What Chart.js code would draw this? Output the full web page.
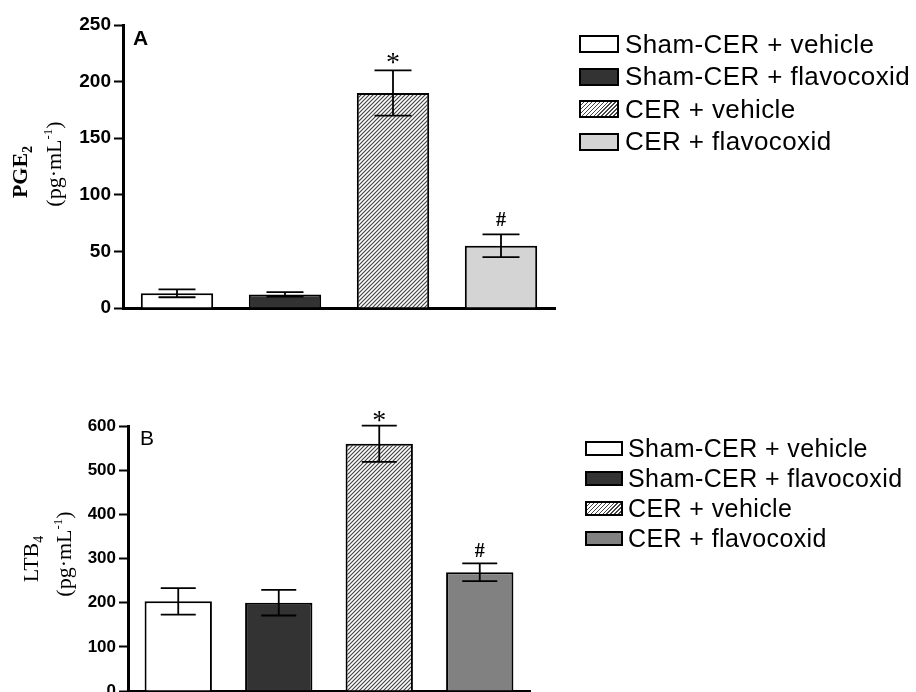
<!DOCTYPE html>
<html>
<head>
<meta charset="utf-8">
<script src="https://cdn.jsdelivr.net/npm/chart.js@4.4.0/dist/chart.umd.min.js"></script>
<style>
  html, body { margin: 0; padding: 0; background: #fff; }
  body { width: 916px; height: 692px; position: relative; overflow: hidden; }
  canvas { position: absolute; left: 0; }
  #cA { top: 0; }
  #cB { top: 346px; }
  .lbl { position: absolute; white-space: nowrap; color: #000; }
  .ytitle { font-family: 'Liberation Serif', 'Times New Roman', serif; transform: translate(-50%, -50%) rotate(-90deg); line-height: 1; }
  .panel { font-family: 'Liberation Sans', Arial, sans-serif; line-height: 1; }
  .legend { position: absolute; font-family: 'Liberation Sans', Arial, sans-serif; color: #000; }
  .legend .row { display: flex; align-items: center; white-space: nowrap; letter-spacing: 0.4px; }
  .legend .sw { box-sizing: border-box; border: 2px solid #000; flex: none; }
</style>
</head>
<body>
<canvas id="cA" width="916" height="346"></canvas>
<canvas id="cB" width="916" height="360"></canvas>

<div class="lbl panel" style="left:133px; top:27px; font-size:21px; font-weight:bold;">A</div>
<div class="lbl panel" style="left:140px; top:427px; font-size:21px;">B</div>

<div class="lbl ytitle" style="left:22px; top:172px; font-size:22px; font-weight:bold;">PGE<sub style="font-size:14px;">2</sub></div>
<div class="lbl ytitle" style="left:53px; top:164px; font-size:22px;">(pg·mL<sup style="font-size:13px;">-1</sup>)</div>
<div class="lbl ytitle" style="left:33px; top:559px; font-size:22px;">LTB<sub style="font-size:14px;">4</sub></div>
<div class="lbl ytitle" style="left:63px; top:554px; font-size:22px;">(pg·mL<sup style="font-size:13px;">-1</sup>)</div>

<div class="legend" id="legA" style="left:579px; top:28px;"></div>
<div class="legend" id="legB" style="left:585px; top:433px;"></div>

<script>
'use strict';

/* ---- data ---- */
const groups = ['Sham-CER + vehicle', 'Sham-CER + flavocoxid', 'CER + vehicle', 'CER + flavocoxid'];
const pgeMean = [13, 12, 190, 55];
const pgeErr = [3.5, 2, 20, 10];
const ltbMean = [203, 200, 560, 269];
const ltbErr = [30, 29, 41, 20];
const pgeTicks = [0, 50, 100, 150, 200, 250];
const ltbTicks = [0, 100, 200, 300, 400, 500, 600];
const signif = ['', '', '*', '#'];

/* ---- hatch pattern for CER + vehicle ---- */
function makeHatch() {
  const s = 4;
  const c = document.createElement('canvas');
  c.width = c.height = s;
  const g = c.getContext('2d');
  g.fillStyle = '#fff';
  g.fillRect(0, 0, s, s);
  g.strokeStyle = '#444';
  g.lineWidth = 1.2;
  g.beginPath();
  g.moveTo(0, s); g.lineTo(s, 0);
  g.moveTo(-1, 1); g.lineTo(1, -1);
  g.moveTo(s - 1, s + 1); g.lineTo(s + 1, s - 1);
  g.stroke();
  return g.createPattern(c, 'repeat');
}
const hatch = makeHatch();

/* ---- error bars + significance marks ---- */
const errBars = {
  id: 'errbars',
  afterDatasetsDraw(chart, args, opts) {
    const { ctx } = chart;
    const y = chart.scales.y;
    const meta = chart.getDatasetMeta(0);
    const vals = chart.data.datasets[0].data;
    ctx.save();
    ctx.strokeStyle = '#000';
    ctx.lineWidth = 1.8;
    meta.data.forEach((bar, i) => {
      const top = y.getPixelForValue(vals[i] + opts.err[i]);
      const bot = y.getPixelForValue(vals[i] - opts.err[i]);
      const half = opts.cap / 2;
      ctx.beginPath();
      ctx.moveTo(bar.x, top); ctx.lineTo(bar.x, bot);
      ctx.moveTo(bar.x - half, top); ctx.lineTo(bar.x + half, top);
      ctx.moveTo(bar.x - half, bot); ctx.lineTo(bar.x + half, bot);
      ctx.stroke();
      const m = opts.marks[i];
      if (m) {
        ctx.fillStyle = '#000';
        ctx.textAlign = 'center';
        ctx.textBaseline = 'alphabetic';
        ctx.font = m === '*' ? '28px "Liberation Serif"' : 'bold 20px "Liberation Serif"';
        ctx.fillText(m, bar.x, top - (m === '*' ? opts.starGap : opts.hashGap));
      }
    });
    ctx.restore();
  }
};

function makeChart(id, means, errs, ticks, colors, o) {
  return new Chart(document.getElementById(id), {
    type: 'bar',
    data: {
      labels: groups,
      datasets: [{
        data: means,
        backgroundColor: colors,
        borderColor: '#000',
        borderWidth: 2,
        borderSkipped: 'start',
        categoryPercentage: 1,
        barPercentage: 0.67
      }]
    },
    options: {
      responsive: false,
      animation: false,
      events: [],
      layout: { padding: o.pad },
      plugins: {
        legend: { display: false },
        tooltip: { enabled: false },
        errbars: { err: errs, marks: signif, cap: o.cap, starGap: o.starGap, hashGap: o.hashGap }
      },
      scales: {
        x: {
          z: 1,
          border: { display: true, color: '#000', width: 3 },
          grid: { display: false },
          ticks: { display: false },
          afterFit: s => { s.height = 0; }
        },
        y: {
          min: 0,
          max: ticks[ticks.length - 1],
          afterBuildTicks: s => { s.ticks = ticks.map(v => ({ value: v })); },
          border: { display: true, color: '#000', width: 3 },
          grid: { drawOnChartArea: false, drawTicks: true, tickLength: 9, tickColor: '#000', tickWidth: 2 },
          ticks: {
            color: '#000',
            padding: 3,
            font: { family: 'Liberation Sans', weight: 'bold', size: o.tickSize }
          },
          afterFit: s => { s.width = o.axisX; }
        }
      }
    },
    plugins: [errBars]
  });
}

makeChart('cA', pgeMean, pgeErr, pgeTicks, ['#ffffff', '#333333', hatch, '#d4d4d4'],
  { pad: { left: 0, right: 361, top: 25, bottom: 38 }, axisX: 123, cap: 37, tickSize: 19, starGap: -1, hashGap: 8 });
makeChart('cB', ltbMean, ltbErr, ltbTicks, ['#ffffff', '#333333', hatch, '#818181'],
  { pad: { left: 0, right: 386, top: 80, bottom: 15 }, axisX: 128, cap: 35, tickSize: 17, starGap: -3, hashGap: 6 });

/* ---- legends ---- */
function buildLegend(id, colors, box, rowH, fontSize, gap) {
  const el = document.getElementById(id);
  groups.forEach((g, i) => {
    const row = document.createElement('div');
    row.className = 'row';
    row.style.height = rowH + 'px';
    row.style.fontSize = fontSize + 'px';
    const sw = document.createElement('div');
    sw.className = 'sw';
    sw.style.width = box[0] + 'px';
    sw.style.height = box[1] + 'px';
    sw.style.marginRight = gap + 'px';
    sw.style.background = colors[i];
    const t = document.createElement('span');
    t.textContent = g;
    row.appendChild(sw);
    row.appendChild(t);
    el.appendChild(row);
  });
}
const cssHatch = 'repeating-linear-gradient(135deg, #fff 0 1.6px, #444 1.6px 2.8px)';
buildLegend('legA', ['#fff', '#333', cssHatch, '#d4d4d4'], [40, 18], 32.5, 26, 6);
buildLegend('legB', ['#fff', '#333', cssHatch, '#818181'], [38, 15], 30, 25, 5);
</script>
</body>
</html>
